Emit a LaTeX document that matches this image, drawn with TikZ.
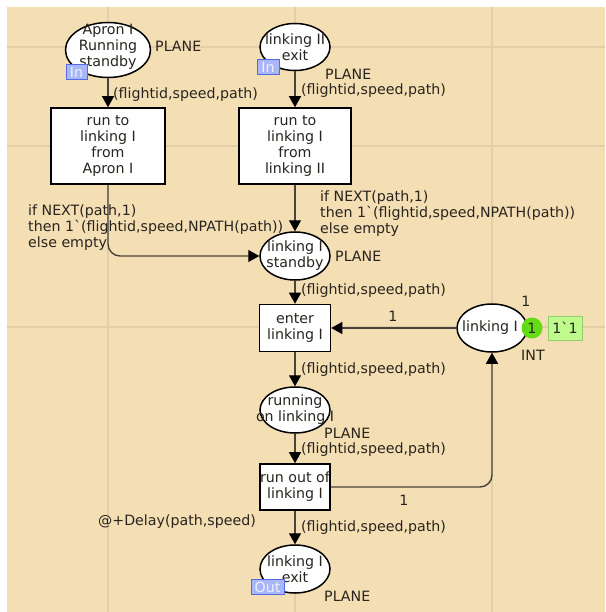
\documentclass[tikz,border=0pt]{standalone}
\usepackage{fontspec}
\setmainfont{DejaVu Sans}
\usetikzlibrary{arrows.meta,shapes.geometric}
\definecolor{bg}{RGB}{244,222,180}
\definecolor{gridc}{RGB}{229,205,166}
\definecolor{arccol}{RGB}{72,68,60}
\definecolor{txt}{RGB}{40,36,30}
\definecolor{tokgreen}{RGB}{100,220,20}
\definecolor{markfill}{RGB}{190,250,140}
\definecolor{markdraw}{RGB}{150,205,110}
\definecolor{tagfill}{RGB}{170,182,250}
\definecolor{tagdraw}{RGB}{85,105,225}
\definecolor{tagtext}{RGB}{235,240,255}
\begin{document}
\begin{tikzpicture}[x=1pt,y=-1pt,
  every node/.style={font=\fontsize{14.2}{16}\selectfont, text=txt},
  place/.style={ellipse, draw=black, line width=1.5pt, fill=white, inner sep=0pt},
  trans/.style={rectangle, draw=black, line width=1.6pt, fill=white, inner sep=0pt},
  ntext/.style={align=center, inner sep=0pt},
  lbl/.style={anchor=west, inner sep=0pt, align=left},
  arcline/.style={draw=arccol, line width=1.4pt, -{Triangle[length=11pt,width=12pt,color=black]}},
  tag/.style={draw=tagdraw, fill=tagfill, line width=1pt, inner sep=0pt, text=tagtext, minimum height=15pt},
  gridline/.style={draw=gridc, line width=1.2pt}
]
\useasboundingbox (0,0) rectangle (605,612);
\fill[bg] (7,7) rectangle (605,612);
% grid
\foreach \gx in {108,295,492} \draw[gridline] (\gx,7) -- (\gx,612);
\foreach \gy in {47,146,327} \draw[gridline] (7,\gy) -- (605,\gy);

% places
\node[place, minimum width=85pt, minimum height=55pt] (p1) at (108,50) {};
\node[ntext] at (108,47) {Apron I\\Running\\standby};
\node[place, minimum width=70pt, minimum height=47pt] (p2) at (295,47) {};
\node[ntext] at (295,47) {linking II\\exit};
\node[place, minimum width=70pt, minimum height=48pt] (p3) at (295,256) {};
\node[ntext] at (295,256) {linking I\\standby};
\node[place, minimum width=70pt, minimum height=46pt] (p4) at (295,410) {};
\node[ntext] at (295,410) {running\\on linking I};
\node[place, minimum width=70pt, minimum height=48pt] (p5) at (492,328) {};
\node[ntext] at (490,328) {linking I};
\node[place, minimum width=70pt, minimum height=48pt] (p6) at (295,569) {};
\node[ntext] at (295,569) {linking I\\exit};

% transitions
\node[trans, minimum width=114pt, minimum height=76pt] (t1) at (108,146) {};
\node[ntext] at (108,146) {run to\\linking I\\from\\Apron I};
\node[trans, minimum width=112pt, minimum height=76pt] (t2) at (295,146) {};
\node[ntext] at (295,146) {run to\\linking I\\from\\linking II};
\node[trans, minimum width=71pt, minimum height=47pt] (t3) at (295,328) {};
\node[ntext] at (295,328) {enter\\linking I};
\node[trans, minimum width=70pt, minimum height=46pt] (t4) at (295,487) {};
\node[ntext] at (295,487) {run out of\\linking I};

% arcs
\draw[arcline] (p1) -- (t1);
\draw[arcline] (p2) -- (t2);
\draw[arcline] (t2) -- (p3);
\draw[arcline, rounded corners=12pt] (t1.south) |- (p3.west);
\draw[arcline] (p3) -- (t3);
\draw[arcline] (p5) -- (t3);
\draw[arcline] (t3) -- (p4);
\draw[arcline] (p4) -- (t4);
\draw[arcline, rounded corners=12pt] (t4.east) -| (p5.south);
\draw[arcline] (t4) -- (p6);

% tags
\node[tag, minimum width=21pt] (tag1) at (76.5,72.5) {In};
\node[tag, minimum width=22pt] (tag2) at (268,67) {In};
\node[tag, minimum width=33pt] (tag3) at (267.5,587) {Out};

% token and marking
\node[circle, fill=tokgreen, minimum size=21pt, inner sep=0pt] (tok) at (532,328) {1};
\node[draw=markdraw, fill=markfill, line width=1pt, minimum width=34pt, minimum height=24pt, inner sep=0pt] (mark) at (565,328) {1\textasciigrave 1};

% labels
\node[lbl] at (155,46) {PLANE};
\node[lbl] at (113,95) {(flightid,speed,path)};
\node[lbl] at (325,74) {PLANE};
\node[lbl] at (301,91) {(flightid,speed,path)};
\node[lbl] at (28,228) {if NEXT(path,1)\\then 1\textasciigrave(flightid,speed,NPATH(path))\\else empty};
\node[lbl] at (320,214) {if NEXT(path,1)\\then 1\textasciigrave(flightid,speed,NPATH(path))\\else empty};
\node[lbl] at (335,256) {PLANE};
\node[lbl] at (301,291) {(flightid,speed,path)};
\node[inner sep=0pt] at (393,316) {1};
\node[inner sep=0pt] at (526,301) {1};
\node[lbl] at (521,355) {INT};
\node[lbl] at (301,370) {(flightid,speed,path)};
\node[lbl] at (324,433) {PLANE};
\node[lbl] at (301,450) {(flightid,speed,path)};
\node[inner sep=0pt] at (404,500) {1};
\node[lbl] at (98,522) {@+Delay(path,speed)};
\node[lbl] at (301,528) {(flightid,speed,path)};
\node[lbl] at (324,596) {PLANE};
\end{tikzpicture}
\end{document}
